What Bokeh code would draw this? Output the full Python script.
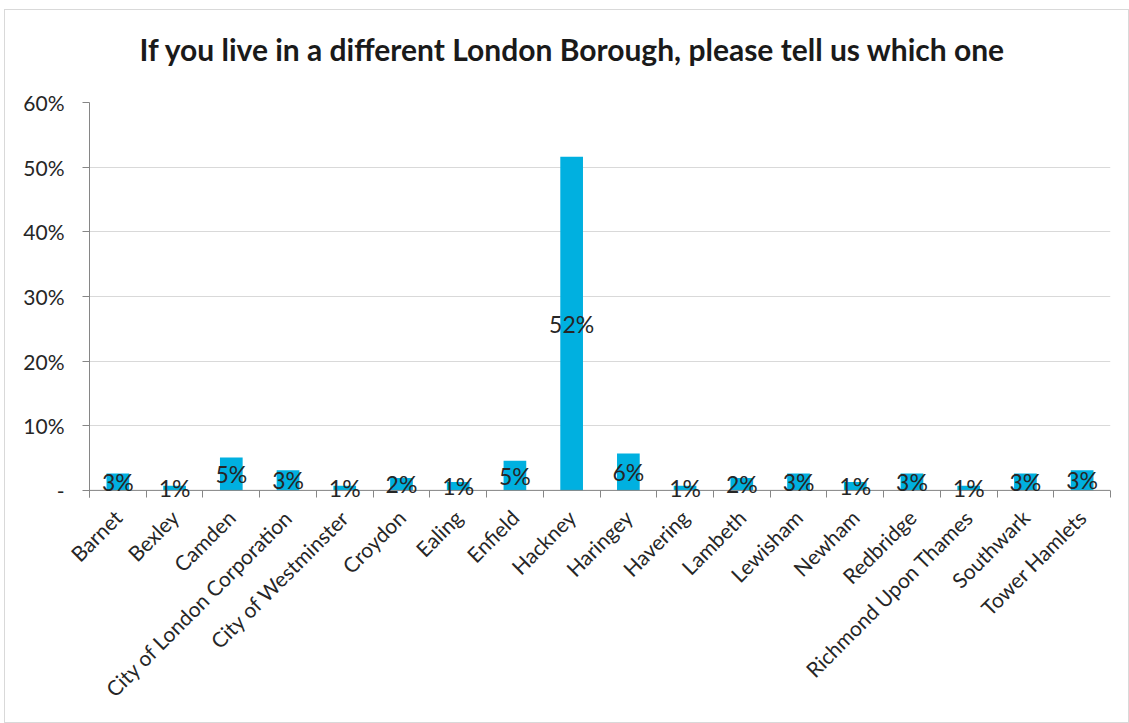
from bokeh.plotting import figure
from bokeh.models import ColumnDataSource, FixedTicker, LabelSet, Title, Span
from bokeh.core.properties import value
from bokeh.embed import file_html
from bokeh.resources import INLINE
import math

boroughs = ["Barnet", "Bexley", "Camden", "City of London Corporation", "City of Westminster",
            "Croydon", "Ealing", "Enfield", "Hackney", "Haringey", "Havering", "Lambeth",
            "Lewisham", "Newham", "Redbridge", "Richmond Upon Thames", "Southwark", "Tower Hamlets"]
percent = [2.6, 0.7, 5.1, 3.1, 0.7, 1.9, 1.3, 4.6, 51.6, 5.7, 0.7, 1.9, 2.6, 1.3, 2.6, 0.7, 2.6, 3.1]
y_ticks = [0, 10, 20, 30, 40, 50, 60]
y_tick_labels = ["-", "10%", "20%", "30%", "40%", "50%", "60%"]
title_text = "If you live in a different London Borough, please tell us which one"

pos = list(range(1, len(boroughs) + 1))
labels = [f"{int(math.floor(v + 0.5))}%" for v in percent]
src = ColumnDataSource(dict(x=pos, y=percent, ymid=[v / 2 for v in percent], lab=labels))

FONT = "Lato"
TXT = "#262626"
AX = "#868686"

# frame: 0% at y=489, 60% at y=101; range extends a little below 0 so that labels fit
p = figure(width=1125, height=714, x_range=(0.5, len(boroughs) + 0.5), y_range=(-1.1, 60),
           output_backend="svg", toolbar_location=None,
           min_border_left=84, min_border_right=20, min_border_top=92, min_border_bottom=227)
p.margin = (9, 0, 0, 4)
p.styles = {"border": "1px solid #d9d9d9"}
p.outline_line_color = None
p.background_fill_color = "white"

spacer = Title(text="|", text_font=FONT, text_font_size="16px", text_color="white")
p.add_layout(spacer, "above")
t = Title(text=title_text, align="left", text_font=FONT, text_font_size="30px",
          text_font_style="bold", text_color="#1a1a1a", offset=50)
p.add_layout(t, "above")

p.vbar(x="x", top="y", bottom=0, width=0.4, source=src, color="#00b0e0", line_color=None)

p.add_layout(Span(location=0, dimension="width", line_color=AX, line_width=1))

p.add_layout(LabelSet(x="x", y="ymid", text="lab", source=src, text_align="center",
                      text_baseline="middle", text_font=value(FONT), text_font_size="23px",
                      text_color=TXT, level="overlay"))

# y axis
p.yaxis.ticker = FixedTicker(ticks=y_ticks)
p.yaxis.major_label_overrides = {k: v for k, v in zip(y_ticks, y_tick_labels)}
p.yaxis.axis_line_color = AX
p.yaxis.major_tick_line_color = AX
p.yaxis.major_tick_out = 7
p.yaxis.major_tick_in = 0
p.yaxis.minor_tick_line_color = None
p.yaxis.major_label_text_font = FONT
p.yaxis.major_label_text_font_size = "21px"
p.yaxis.major_label_text_color = TXT
p.yaxis.major_label_standoff = 18

# x axis (line drawn by the span at 0; category separators rise from frame bottom)
p.xaxis.ticker = FixedTicker(ticks=pos, minor_ticks=[i + 0.5 for i in range(0, len(boroughs) + 1)])
p.xaxis.major_label_overrides = {k: v for k, v in zip(pos, boroughs)}
p.xaxis.major_label_orientation = math.pi / 4
p.xaxis.axis_line_color = None
p.xaxis.major_tick_line_color = None
p.xaxis.minor_tick_line_color = AX
p.xaxis.minor_tick_out = 0
p.xaxis.minor_tick_in = 7
p.xaxis.major_label_text_font = FONT
p.xaxis.major_label_text_font_size = "21px"
p.xaxis.major_label_text_color = TXT
p.xaxis.major_label_standoff = 10

p.xgrid.grid_line_color = None
p.ygrid.ticker = FixedTicker(ticks=y_ticks)
p.ygrid.grid_line_color = "#d9d9d9"

open("out.html", "w").write(file_html(p, INLINE))
